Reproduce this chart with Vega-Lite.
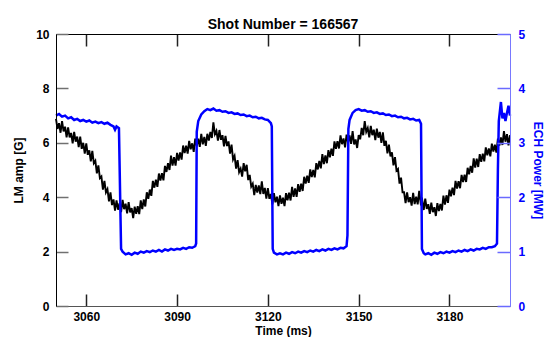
{
  "$schema": "https://vega.github.io/schema/vega-lite/v6.json",
  "width": 454,
  "height": 272,
  "autosize": {"type": "none"},
  "padding": {"left": 56, "top": 34, "right": 35, "bottom": 31},
  "background": "white",
  "title": {"text": "Shot Number = 166567", "font": "Liberation Sans", "fontSize": 14, "fontWeight": "bold", "color": "black", "offset": 0, "dy": 4},
  "config": {
    "view": {"stroke": null},
    "axis": {"labelFont": "Liberation Sans", "titleFont": "Liberation Sans", "labelFontSize": 12, "titleFontSize": 12, "labelFontWeight": "bold", "titleFontWeight": "bold"}
  },
  "datasets": {
    "lm": [
{"t":3050,"lm":6.88},{"t":3050.5,"lm":6.51},{"t":3051,"lm":6.72},{"t":3051.5,"lm":6.37},{"t":3052,"lm":6.8},{"t":3052.5,"lm":6.42},{"t":3053,"lm":6.59},{"t":3053.5,"lm":6.2},{"t":3054,"lm":6.57},{"t":3054.5,"lm":6.2},
{"t":3055,"lm":6.36},{"t":3055.5,"lm":5.98},{"t":3056,"lm":6.4},{"t":3056.5,"lm":6.04},{"t":3057,"lm":6.23},{"t":3057.5,"lm":5.84},{"t":3058,"lm":6.23},{"t":3058.5,"lm":5.78},{"t":3059,"lm":6.0},{"t":3059.5,"lm":5.6},
{"t":3060,"lm":5.98},{"t":3060.5,"lm":5.56},{"t":3061,"lm":5.72},{"t":3061.5,"lm":5.32},{"t":3062,"lm":5.7},{"t":3062.5,"lm":5.25},{"t":3063,"lm":5.34},{"t":3063.5,"lm":4.88},{"t":3064,"lm":5.17},{"t":3064.5,"lm":4.7},
{"t":3065,"lm":4.76},{"t":3065.5,"lm":4.28},{"t":3066,"lm":4.6},{"t":3066.5,"lm":4.18},{"t":3067,"lm":4.3},{"t":3067.5,"lm":3.85},{"t":3068,"lm":4.18},{"t":3068.5,"lm":3.71},{"t":3069,"lm":3.92},{"t":3069.5,"lm":3.51},
{"t":3070,"lm":3.88},{"t":3070.5,"lm":3.54},{"t":3071,"lm":3.78},{"t":3071.5,"lm":3.45},{"t":3072,"lm":3.9},{"t":3072.5,"lm":3.56},{"t":3073,"lm":3.76},{"t":3073.5,"lm":3.41},{"t":3074,"lm":3.82},{"t":3074.5,"lm":3.44},
{"t":3075,"lm":3.6},{"t":3075.5,"lm":3.23},{"t":3076,"lm":3.65},{"t":3076.5,"lm":3.39},{"t":3077,"lm":3.67},{"t":3077.5,"lm":3.38},{"t":3078,"lm":3.88},{"t":3078.5,"lm":3.56},{"t":3079,"lm":3.92},{"t":3079.5,"lm":3.66},
{"t":3080,"lm":4.18},{"t":3080.5,"lm":3.94},{"t":3081,"lm":4.28},{"t":3081.5,"lm":4.05},{"t":3082,"lm":4.6},{"t":3082.5,"lm":4.35},{"t":3083,"lm":4.64},{"t":3083.5,"lm":4.38},{"t":3084,"lm":4.87},{"t":3084.5,"lm":4.61},
{"t":3085,"lm":4.88},{"t":3085.5,"lm":4.62},{"t":3086,"lm":5.15},{"t":3086.5,"lm":4.93},{"t":3087,"lm":5.25},{"t":3087.5,"lm":5.0},{"t":3088,"lm":5.53},{"t":3088.5,"lm":5.16},{"t":3089,"lm":5.47},{"t":3089.5,"lm":5.16},
{"t":3090,"lm":5.63},{"t":3090.5,"lm":5.35},{"t":3091,"lm":5.65},{"t":3091.5,"lm":5.38},{"t":3092,"lm":5.9},{"t":3092.5,"lm":5.62},{"t":3093,"lm":5.89},{"t":3093.5,"lm":5.6},{"t":3094,"lm":6.07},{"t":3094.5,"lm":5.76},
{"t":3095,"lm":5.98},{"t":3095.5,"lm":5.67},{"t":3096,"lm":6.15},{"t":3096.5,"lm":5.88},{"t":3097,"lm":6.15},{"t":3097.5,"lm":5.85},{"t":3098,"lm":6.33},{"t":3098.5,"lm":5.94},{"t":3099,"lm":6.22},{"t":3099.5,"lm":5.89},
{"t":3100,"lm":6.33},{"t":3100.5,"lm":6.08},{"t":3101,"lm":6.4},{"t":3101.5,"lm":6.18},{"t":3102,"lm":6.75},{"t":3102.5,"lm":6.32},{"t":3103,"lm":6.44},{"t":3103.5,"lm":6.08},{"t":3104,"lm":6.47},{"t":3104.5,"lm":6.11},
{"t":3105,"lm":6.28},{"t":3105.5,"lm":5.87},{"t":3106,"lm":6.25},{"t":3106.5,"lm":5.88},{"t":3107,"lm":6.05},{"t":3107.5,"lm":5.6},{"t":3108,"lm":5.93},{"t":3108.5,"lm":5.39},{"t":3109,"lm":5.52},{"t":3109.5,"lm":5.05},
{"t":3110,"lm":5.36},{"t":3110.5,"lm":4.92},{"t":3111,"lm":5.05},{"t":3111.5,"lm":4.76},{"t":3112,"lm":5.25},{"t":3112.5,"lm":4.95},{"t":3113,"lm":5.19},{"t":3113.5,"lm":4.63},{"t":3114,"lm":4.82},{"t":3114.5,"lm":4.39},
{"t":3115,"lm":4.5},{"t":3115.5,"lm":4.08},{"t":3116,"lm":4.45},{"t":3116.5,"lm":4.17},{"t":3117,"lm":4.43},{"t":3117.5,"lm":4.11},{"t":3118,"lm":4.58},{"t":3118.5,"lm":4.12},{"t":3119,"lm":4.34},{"t":3119.5,"lm":3.95},
{"t":3120,"lm":4.33},{"t":3120.5,"lm":3.94},{"t":3121,"lm":4.12},{"t":3121.5,"lm":3.74},{"t":3122,"lm":4.15},{"t":3122.5,"lm":3.81},{"t":3123,"lm":4.02},{"t":3123.5,"lm":3.67},{"t":3124,"lm":4.07},{"t":3124.5,"lm":3.76},
{"t":3125,"lm":3.98},{"t":3125.5,"lm":3.67},{"t":3126,"lm":4.15},{"t":3126.5,"lm":3.89},{"t":3127,"lm":4.17},{"t":3127.5,"lm":3.88},{"t":3128,"lm":4.38},{"t":3128.5,"lm":4.01},{"t":3129,"lm":4.32},{"t":3129.5,"lm":4.01},
{"t":3130,"lm":4.48},{"t":3130.5,"lm":4.2},{"t":3131,"lm":4.5},{"t":3131.5,"lm":4.23},{"t":3132,"lm":4.75},{"t":3132.5,"lm":4.5},{"t":3133,"lm":4.79},{"t":3133.5,"lm":4.53},{"t":3134,"lm":5.02},{"t":3134.5,"lm":4.74},
{"t":3135,"lm":5.0},{"t":3135.5,"lm":4.73},{"t":3136,"lm":5.25},{"t":3136.5,"lm":5.02},{"t":3137,"lm":5.33},{"t":3137.5,"lm":5.06},{"t":3138,"lm":5.58},{"t":3138.5,"lm":5.22},{"t":3139,"lm":5.54},{"t":3139.5,"lm":5.25},
{"t":3140,"lm":5.73},{"t":3140.5,"lm":5.47},{"t":3141,"lm":5.78},{"t":3141.5,"lm":5.52},{"t":3142,"lm":6.05},{"t":3142.5,"lm":5.78},{"t":3143,"lm":6.06},{"t":3143.5,"lm":5.79},{"t":3144,"lm":6.27},{"t":3144.5,"lm":5.95},
{"t":3145,"lm":6.16},{"t":3145.5,"lm":5.83},{"t":3146,"lm":6.3},{"t":3146.5,"lm":6.01},{"t":3147,"lm":6.27},{"t":3147.5,"lm":5.96},{"t":3148,"lm":6.43},{"t":3148.5,"lm":5.94},{"t":3149,"lm":6.12},{"t":3149.5,"lm":5.81},
{"t":3150,"lm":6.28},{"t":3150.5,"lm":6.13},{"t":3151,"lm":6.55},{"t":3151.5,"lm":6.28},{"t":3152,"lm":6.8},{"t":3152.5,"lm":6.4},{"t":3153,"lm":6.54},{"t":3153.5,"lm":6.2},{"t":3154,"lm":6.62},{"t":3154.5,"lm":6.28},
{"t":3155,"lm":6.48},{"t":3155.5,"lm":6.1},{"t":3156,"lm":6.52},{"t":3156.5,"lm":6.19},{"t":3157,"lm":6.4},{"t":3157.5,"lm":6.0},{"t":3158,"lm":6.38},{"t":3158.5,"lm":5.89},{"t":3159,"lm":6.07},{"t":3159.5,"lm":5.61},
{"t":3160,"lm":5.93},{"t":3160.5,"lm":5.5},{"t":3161,"lm":5.65},{"t":3161.5,"lm":5.17},{"t":3162,"lm":5.47},{"t":3162.5,"lm":4.98},{"t":3163,"lm":5.04},{"t":3163.5,"lm":4.5},{"t":3164,"lm":4.72},{"t":3164.5,"lm":4.18},
{"t":3165,"lm":4.18},{"t":3165.5,"lm":3.78},{"t":3166,"lm":4.18},{"t":3166.5,"lm":3.82},{"t":3167,"lm":4.0},{"t":3167.5,"lm":3.69},{"t":3168,"lm":4.16},{"t":3168.5,"lm":3.75},{"t":3169,"lm":4.02},{"t":3169.5,"lm":3.74},
{"t":3170,"lm":4.23},{"t":3170.5,"lm":3.78},{"t":3171,"lm":3.9},{"t":3171.5,"lm":3.53},{"t":3172,"lm":3.95},{"t":3172.5,"lm":3.57},{"t":3173,"lm":3.74},{"t":3173.5,"lm":3.39},{"t":3174,"lm":3.8},{"t":3174.5,"lm":3.45},
{"t":3175,"lm":3.63},{"t":3175.5,"lm":3.31},{"t":3176,"lm":3.78},{"t":3176.5,"lm":3.49},{"t":3177,"lm":3.75},{"t":3177.5,"lm":3.51},{"t":3178,"lm":4.06},{"t":3178.5,"lm":3.73},{"t":3179,"lm":4.07},{"t":3179.5,"lm":3.79},
{"t":3180,"lm":4.28},{"t":3180.5,"lm":4.03},{"t":3181,"lm":4.35},{"t":3181.5,"lm":4.08},{"t":3182,"lm":4.6},{"t":3182.5,"lm":4.32},{"t":3183,"lm":4.59},{"t":3183.5,"lm":4.33},{"t":3184,"lm":4.82},{"t":3184.5,"lm":4.56},
{"t":3185,"lm":4.83},{"t":3185.5,"lm":4.56},{"t":3186,"lm":5.08},{"t":3186.5,"lm":4.84},{"t":3187,"lm":5.15},{"t":3187.5,"lm":4.9},{"t":3188,"lm":5.43},{"t":3188.5,"lm":5.09},{"t":3189,"lm":5.42},{"t":3189.5,"lm":5.11},
{"t":3190,"lm":5.58},{"t":3190.5,"lm":5.3},{"t":3191,"lm":5.6},{"t":3191.5,"lm":5.32},{"t":3192,"lm":5.83},{"t":3192.5,"lm":5.54},{"t":3193,"lm":5.79},{"t":3193.5,"lm":5.5},{"t":3194,"lm":5.97},{"t":3194.5,"lm":5.68},
{"t":3195,"lm":5.93},{"t":3195.5,"lm":5.64},{"t":3196,"lm":6.15},{"t":3196.5,"lm":5.9},{"t":3197,"lm":6.2},{"t":3197.5,"lm":5.92},{"t":3198,"lm":6.43},{"t":3198.5,"lm":6.04},{"t":3199,"lm":6.32},{"t":3199.5,"lm":5.91},
{"t":3200,"lm":6.28}
    ],
    "ech": [
{"t":3050,"p":3.5},{"t":3051,"p":3.53},{"t":3052,"p":3.48},{"t":3053,"p":3.5},{"t":3054,"p":3.45},{"t":3055,"p":3.47},{"t":3056,"p":3.42},{"t":3057,"p":3.44},{"t":3058,"p":3.4},{"t":3059,"p":3.42},
{"t":3060,"p":3.39},{"t":3061,"p":3.41},{"t":3062,"p":3.37},{"t":3063,"p":3.39},{"t":3064,"p":3.36},{"t":3065,"p":3.38},{"t":3066,"p":3.35},{"t":3067,"p":3.37},{"t":3068,"p":3.33},{"t":3069,"p":3.3},
{"t":3069.5,"p":3.24},{"t":3070,"p":3.3},{"t":3070.8,"p":3.27},{"t":3071.2,"p":2.0},{"t":3071.5,"p":1.05},{"t":3072,"p":1.0},{"t":3073,"p":0.95},{"t":3074,"p":0.97},{"t":3075,"p":0.94},{"t":3076,"p":0.98},
{"t":3077,"p":0.96},{"t":3078,"p":1.0},{"t":3079,"p":0.98},{"t":3080,"p":1.01},{"t":3081,"p":0.99},{"t":3082,"p":1.02},{"t":3083,"p":1.0},{"t":3084,"p":1.03},{"t":3085,"p":1.0},{"t":3086,"p":1.04},
{"t":3087,"p":1.02},{"t":3088,"p":1.05},{"t":3089,"p":1.03},{"t":3090,"p":1.05},{"t":3091,"p":1.04},{"t":3092,"p":1.07},{"t":3093,"p":1.05},{"t":3094,"p":1.08},{"t":3095,"p":1.07},{"t":3096,"p":1.1},
{"t":3096.3,"p":1.15},{"t":3096.5,"p":3.2},{"t":3097,"p":3.4},{"t":3098,"p":3.52},{"t":3099,"p":3.58},{"t":3100,"p":3.62},{"t":3101,"p":3.6},{"t":3102,"p":3.63},{"t":3103,"p":3.59},{"t":3104,"p":3.6},
{"t":3105,"p":3.57},{"t":3106,"p":3.58},{"t":3107,"p":3.55},{"t":3108,"p":3.56},{"t":3109,"p":3.53},{"t":3110,"p":3.54},{"t":3111,"p":3.51},{"t":3112,"p":3.52},{"t":3113,"p":3.49},{"t":3114,"p":3.5},
{"t":3115,"p":3.47},{"t":3116,"p":3.48},{"t":3117,"p":3.45},{"t":3118,"p":3.46},{"t":3119,"p":3.43},{"t":3120,"p":3.42},{"t":3121,"p":3.36},{"t":3121.3,"p":3.3},{"t":3121.6,"p":1.05},{"t":3122,"p":0.98},
{"t":3123,"p":0.95},{"t":3124,"p":0.97},{"t":3125,"p":0.95},{"t":3126,"p":0.98},{"t":3127,"p":0.96},{"t":3128,"p":0.99},{"t":3129,"p":0.97},{"t":3130,"p":1.0},{"t":3131,"p":0.98},{"t":3132,"p":1.01},
{"t":3133,"p":0.99},{"t":3134,"p":1.02},{"t":3135,"p":1.0},{"t":3136,"p":1.03},{"t":3137,"p":1.01},{"t":3138,"p":1.04},{"t":3139,"p":1.02},{"t":3140,"p":1.05},{"t":3141,"p":1.03},{"t":3142,"p":1.06},
{"t":3143,"p":1.04},{"t":3144,"p":1.07},{"t":3145,"p":1.06},{"t":3146,"p":1.1},{"t":3146.3,"p":1.3},{"t":3146.6,"p":3.25},{"t":3147,"p":3.42},{"t":3148,"p":3.55},{"t":3149,"p":3.6},{"t":3150,"p":3.62},
{"t":3151,"p":3.59},{"t":3152,"p":3.6},{"t":3153,"p":3.57},{"t":3154,"p":3.58},{"t":3155,"p":3.55},{"t":3156,"p":3.56},{"t":3157,"p":3.53},{"t":3158,"p":3.54},{"t":3159,"p":3.51},{"t":3160,"p":3.52},
{"t":3161,"p":3.49},{"t":3162,"p":3.5},{"t":3163,"p":3.47},{"t":3164,"p":3.48},{"t":3165,"p":3.45},{"t":3166,"p":3.46},{"t":3167,"p":3.43},{"t":3168,"p":3.44},{"t":3169,"p":3.41},{"t":3170,"p":3.42},
{"t":3170.6,"p":3.35},{"t":3170.9,"p":1.05},{"t":3171.5,"p":0.97},{"t":3172,"p":0.95},{"t":3173,"p":0.97},{"t":3174,"p":0.94},{"t":3175,"p":0.98},{"t":3176,"p":0.96},{"t":3177,"p":0.99},{"t":3178,"p":0.97},
{"t":3179,"p":1.0},{"t":3180,"p":0.98},{"t":3181,"p":1.01},{"t":3182,"p":0.99},{"t":3183,"p":1.02},{"t":3184,"p":1.0},{"t":3185,"p":1.03},{"t":3186,"p":1.01},{"t":3187,"p":1.04},{"t":3188,"p":1.02},
{"t":3189,"p":1.05},{"t":3190,"p":1.04},{"t":3191,"p":1.07},{"t":3192,"p":1.05},{"t":3193,"p":1.08},{"t":3194,"p":1.08},{"t":3195,"p":1.1},{"t":3195.7,"p":1.15},{"t":3196,"p":2.5},{"t":3196.3,"p":3.4},
{"t":3197,"p":3.75},{"t":3197.5,"p":3.45},{"t":3198,"p":3.55},{"t":3198.5,"p":3.4},{"t":3199,"p":3.55},{"t":3199.5,"p":3.68},{"t":3200,"p":3.5}
    ]
  },
  "layer": [
    {
      "data": {"name": "lm"},
      "mark": {"type": "line", "color": "black", "strokeWidth": 1.9},
      "encoding": {
        "x": {"field": "t", "type": "quantitative", "scale": {"domain": [3050, 3200], "nice": false, "zero": false},
          "axis": {"orient": "bottom", "title": "Time (ms)", "format": "d", "grid": false, "zindex": 1, "values": [3060, 3090, 3120, 3150, 3180], "tickSize": -12, "tickWidth": 1.5, "tickColor": "#222222", "domainColor": "#555555", "labelColor": "black", "titleColor": "black", "labelPadding": 17, "titlePadding": 3}},
        "y": {"field": "lm", "type": "quantitative", "scale": {"domain": [0, 10], "nice": false, "zero": true},
          "axis": {"orient": "left", "title": "LM amp [G]", "format": "d", "grid": false, "zindex": 1, "values": [0, 2, 4, 6, 8, 10], "tickSize": -12, "tickWidth": 1.5, "tickColor": "#707070", "domainColor": "black", "labelColor": "black", "titleColor": "black", "labelPadding": 19, "titlePadding": 10}}
      }
    },
    {
      "data": {"name": "ech"},
      "mark": {"type": "line", "color": "#0000ff", "strokeWidth": 2.5},
      "encoding": {
        "x": {"field": "t", "type": "quantitative", "scale": {"domain": [3050, 3200], "nice": false, "zero": false},
          "axis": {"orient": "top", "title": null, "labels": false, "grid": false, "zindex": 1, "values": [3060, 3090, 3120, 3150, 3180], "tickSize": -12, "tickWidth": 1.5, "tickColor": "#222222", "domainColor": "black"}},
        "y": {"field": "p", "type": "quantitative", "scale": {"domain": [0, 5], "nice": false, "zero": true},
          "axis": {"orient": "right", "title": "ECH Power [MW]", "format": "d", "grid": false, "zindex": 1, "values": [0, 1, 2, 3, 4, 5], "tickSize": -13, "tickWidth": 1.5, "tickColor": "#6a6aff", "domainColor": "#7878ff", "labelColor": "#0000ff", "titleColor": "#0000ff", "labelPadding": 21, "titlePadding": 6}}
      }
    }
  ],
  "resolve": {"scale": {"y": "independent"}, "axis": {"x": "independent"}}
}
